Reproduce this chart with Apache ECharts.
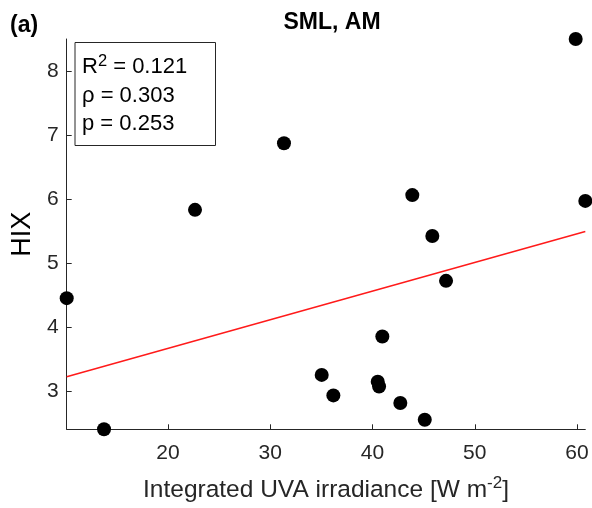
<!DOCTYPE html>
<html>
<head>
<meta charset="utf-8">
<script src="https://cdn.jsdelivr.net/npm/echarts@6/dist/echarts.min.js"></script>
<style>html,body{margin:0;padding:0;background:#fff}#c{width:592px;height:508px}</style>
</head>
<body>
<div id="c"></div>
<script>
const uvaX = [10.09, 13.74, 22.64, 31.34, 35.03, 36.17, 40.51, 40.64, 40.96, 42.72, 45.11, 43.89, 45.85, 47.19, 59.87, 60.81];
const hixY = [4.45, 2.40, 5.83, 6.87, 3.25, 2.93, 3.145, 3.07, 3.85, 2.81, 2.55, 6.06, 5.42, 4.72, 8.50, 5.97];
const fitX = [10.09, 60.81];
const fitY = [3.22, 5.49];
const xTicks = [20, 30, 40, 50, 60];
const yTicks = [3, 4, 5, 6, 7, 8];
const statLines = ['R{sup|2} = 0.121', 'ρ = 0.303', 'p = 0.253'];
const titleText = 'SML, AM';
const panelLabel = '(a)';

const FONT = '"Liberation Sans", Arial, Helvetica, sans-serif';
const AX = '#262626';

const chart = echarts.init(document.getElementById('c'), null, {renderer: 'canvas'});
chart.setOption({
  animation: false,
  backgroundColor: '#fff',
  grid: {left: 66.7, right: 6.7, top: 39, bottom: 78.7, containLabel: false},
  title: [
    {text: titleText, left: 327, top: 6, textAlign: 'center',
     textStyle: {fontFamily: FONT, fontSize: 23, fontWeight: 'bold', color: '#000'}},
    {text: panelLabel, left: 5, top: 9,
     textStyle: {fontFamily: FONT, fontSize: 23, fontWeight: 'bold', color: '#000'}}
  ],
  xAxis: {
    type: 'value', min: 10.09, max: 60.81,
    name: 'Integrated UVA irradiance [W m{sup|-2}]',
    nameLocation: 'middle', nameGap: 46,
    nameTextStyle: {fontFamily: FONT, fontSize: 24.5, color: AX,
      rich: {sup: {fontFamily: FONT, fontSize: 17, color: AX, verticalAlign: 'top', padding: [0,0,12,0]}}},
    axisLine: {show: true, lineStyle: {color: AX, width: 1}},
    axisTick: {show: true, inside: true, length: 5, lineStyle: {color: AX}, customValues: xTicks},
    axisLabel: {fontFamily: FONT, fontSize: 21, color: AX, margin: 13, customValues: xTicks},
    splitLine: {show: false}
  },
  yAxis: {
    type: 'value', min: 2.40, max: 8.50,
    name: 'HIX', nameLocation: 'middle', nameGap: 30, nameRotate: 90,
    nameTextStyle: {fontFamily: FONT, fontSize: 27, color: '#000'},
    axisLine: {show: true, lineStyle: {color: AX, width: 1}},
    axisTick: {show: true, inside: true, length: 5, lineStyle: {color: AX}, customValues: yTicks},
    axisLabel: {fontFamily: FONT, fontSize: 21, color: AX, margin: 8, customValues: yTicks},
    splitLine: {show: false}
  },
  series: [
    {type: 'line', data: fitX.map((x, i) => [x, fitY[i]]), symbol: 'none',
     lineStyle: {color: '#ff1a1a', width: 1.5}, z: 2},
    {type: 'scatter', data: uvaX.map((x, i) => [x, hixY[i]]), symbolSize: 14,
     itemStyle: {color: '#000', opacity: 1}, z: 3}
  ],
  graphic: [
    {type: 'rect', left: 74.5, top: 42, shape: {width: 140.5, height: 103},
     style: {fill: '#fff', stroke: AX, lineWidth: 1}, z: 10},
    {type: 'text', left: 82, top: 53, z: 11,
     style: {text: statLines.join('\n'), fontFamily: FONT, fontSize: 22, fill: '#000', lineHeight: 28.5,
       rich: {sup: {fontFamily: FONT, fontSize: 16.5, fill: '#000', verticalAlign: 'top', padding: [0,0,12,0]}}}}
  ]
});
</script>
</body>
</html>
